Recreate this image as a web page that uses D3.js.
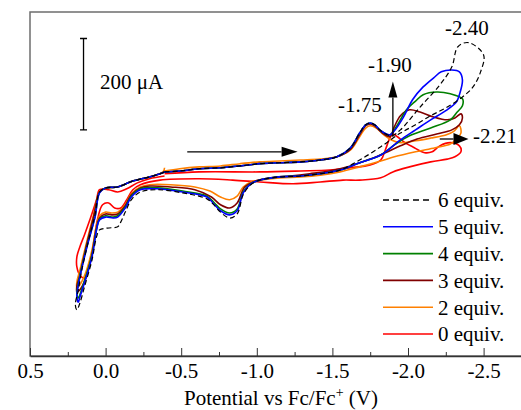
<!DOCTYPE html>
<html>
<head>
<meta charset="utf-8">
<script src="https://cdn.jsdelivr.net/npm/d3@7"></script>
<style>
  body { margin: 0; background: #fff; }
</style>
</head>
<body>
<script>
var width = 521,
    height = 410;

var serifFont = "'Liberation Serif', 'DejaVu Serif', 'Nimbus Roman', 'Nimbus Roman No9 L', FreeSerif, Tinos, 'Noto Serif', 'Times New Roman', serif";

// tick values of the potential axis (V vs Fc/Fc+)
var xMajor = [0.5, 0, -0.5, -1, -1.5, -2, -2.5];
var xMinor = [0.25, -0.25, -0.75, -1.25, -1.75, -2.25, -2.75];

var labels = ["6 equiv.", "5 equiv.", "4 equiv.", "3 equiv.", "2 equiv.", "0 equiv."];
var colors = ["#000000", "#0000ff", "#008000", "#800000", "#ff8000", "#ff0000"];

// [potential V, current uA], each loop starts near -0.4 V
var eq6 = [[-0.39,0],[-0.49,2],[-0.62,7],[-0.76,9],[-0.89,13],[-1.02,18],[-1.15,20],[-1.29,22],[-1.42,26],[-1.53,33],
  [-1.62,53],[-1.68,85],[-1.72,103],[-1.75,107],[-1.78,103],[-1.82,90],[-1.89,79],[-1.95,92],[-2.08,142],[-2.21,190],
  [-2.29,230],[-2.33,274],[-2.40,283],[-2.50,256],[-2.48,219],[-2.43,186],[-2.36,164],[-2.25,140],[-2.15,123],[-2.05,103],
  [-1.95,85],[-1.82,55],[-1.68,26],[-1.55,4],[-1.42,-4],[-1.29,-9],[-1.15,-11],[-1.02,-18],[-0.96,-28],[-0.91,-50],
  [-0.87,-92],[-0.82,-101],[-0.76,-88],[-0.71,-70],[-0.67,-59],[-0.51,-46],[-0.34,-39],[-0.23,-44],[-0.17,-61],[-0.13,-88],
  [-0.10,-110],[-0.08,-120],[-0.01,-123],[0.04,-127],[0.06,-142],[0.09,-193],[0.14,-252],[0.17,-287],[0.19,-302],
  [0.20,-291],[0.18,-258],[0.16,-219],[0.12,-160],[0.07,-94],[0.04,-44],[0.00,-35],[-0.08,-33],[-0.18,-20],[-0.29,-11],
  [-0.36,-4],[-0.39,0]];

var eq5 = [[-0.39,0],[-0.49,2],[-0.62,7],[-0.76,9],[-0.89,13],[-1.02,18],[-1.15,20],[-1.29,22],[-1.42,26],[-1.53,33],
  [-1.62,53],[-1.68,85],[-1.72,103],[-1.75,107],[-1.78,103],[-1.82,90],[-1.88,81],[-1.91,90],[-1.97,120],[-2.03,158],
  [-2.10,186],[-2.17,206],[-2.22,219],[-2.29,223],[-2.34,219],[-2.36,201],[-2.34,169],[-2.32,153],[-2.25,134],[-2.15,114],
  [-2.05,92],[-1.95,70],[-1.82,37],[-1.68,20],[-1.55,4],[-1.42,-4],[-1.29,-9],[-1.15,-11],[-1.02,-18],[-0.96,-26],
  [-0.91,-46],[-0.87,-85],[-0.82,-94],[-0.76,-85],[-0.72,-72],[-0.67,-55],[-0.51,-44],[-0.34,-37],[-0.23,-39],[-0.17,-55],
  [-0.13,-79],[-0.08,-99],[-0.05,-101],[0.00,-99],[0.04,-105],[0.06,-127],[0.09,-186],[0.14,-243],[0.17,-274],[0.18,-285],
  [0.19,-274],[0.18,-247],[0.16,-215],[0.12,-160],[0.07,-99],[0.04,-46],[0.00,-35],[-0.08,-33],[-0.18,-20],[-0.29,-11],
  [-0.36,-4],[-0.39,0]];

var eq4 = [[-0.39,0],[-0.49,2],[-0.62,7],[-0.76,9],[-0.89,13],[-1.02,18],[-1.15,20],[-1.29,22],[-1.42,26],[-1.53,33],
  [-1.62,53],[-1.68,85],[-1.72,103],[-1.75,107],[-1.78,103],[-1.82,90],[-1.88,81],[-1.93,103],[-1.99,136],[-2.05,155],
  [-2.10,169],[-2.19,175],[-2.28,171],[-2.36,160],[-2.36,145],[-2.32,129],[-2.28,114],[-2.15,96],[-2.01,79],[-1.91,59],
  [-1.82,37],[-1.68,20],[-1.55,4],[-1.42,-4],[-1.29,-9],[-1.15,-11],[-1.02,-18],[-0.96,-26],[-0.91,-44],[-0.87,-81],
  [-0.82,-90],[-0.76,-81],[-0.72,-68],[-0.67,-53],[-0.51,-42],[-0.34,-35],[-0.23,-37],[-0.17,-53],[-0.13,-77],[-0.08,-96],
  [-0.05,-99],[0.00,-96],[0.04,-103],[0.06,-125],[0.09,-182],[0.14,-239],[0.17,-269],[0.18,-276],[0.19,-267],[0.18,-243],
  [0.16,-212],[0.12,-158],[0.07,-98],[0.04,-45],[0.00,-35],[-0.08,-33],[-0.18,-20],[-0.29,-11],[-0.36,-4],[-0.39,0]];

var eq3 = [[-0.39,0],[-0.49,2],[-0.62,7],[-0.76,9],[-0.89,13],[-1.02,18],[-1.15,20],[-1.29,22],[-1.42,26],[-1.53,33],
  [-1.62,50],[-1.68,81],[-1.72,101],[-1.75,105],[-1.78,101],[-1.82,88],[-1.88,77],[-1.91,99],[-1.95,123],[-2.01,136],
  [-2.08,131],[-2.17,120],[-2.26,114],[-2.31,118],[-2.35,127],[-2.36,118],[-2.34,103],[-2.29,92],[-2.19,83],[-2.06,72],
  [-1.95,57],[-1.85,42],[-1.75,28],[-1.62,13],[-1.48,2],[-1.35,-4],[-1.22,-9],[-1.09,-13],[-0.99,-20],[-0.92,-33],
  [-0.87,-68],[-0.82,-79],[-0.76,-72],[-0.70,-55],[-0.59,-39],[-0.43,-33],[-0.29,-31],[-0.23,-35],[-0.17,-50],[-0.13,-74],
  [-0.08,-92],[-0.04,-94],[0.00,-92],[0.04,-101],[0.06,-123],[0.09,-180],[0.13,-232],[0.17,-258],[0.19,-263],[0.19,-250],
  [0.17,-226],[0.13,-166],[0.08,-99],[0.04,-44],[0.00,-35],[-0.08,-33],[-0.18,-20],[-0.29,-11],[-0.39,0]];

var eq2 = [[-0.39,2],[-0.49,7],[-0.62,11],[-0.76,13],[-0.89,18],[-1.02,22],[-1.15,24],[-1.29,26],[-1.42,28],[-1.53,33],
  [-1.62,48],[-1.68,77],[-1.72,96],[-1.75,101],[-1.79,96],[-1.84,81],[-1.89,70],[-1.95,64],[-2.05,68],[-2.15,74],
  [-2.25,81],[-2.30,88],[-2.34,101],[-2.35,85],[-2.32,72],[-2.28,61],[-2.18,53],[-2.05,44],[-1.91,33],[-1.82,24],
  [-1.68,11],[-1.55,0],[-1.42,-7],[-1.29,-11],[-1.15,-13],[-1.02,-18],[-0.96,-22],[-0.91,-33],[-0.87,-53],[-0.82,-61],
  [-0.76,-55],[-0.69,-42],[-0.59,-33],[-0.43,-28],[-0.29,-28],[-0.23,-33],[-0.17,-48],[-0.13,-72],[-0.08,-88],[-0.04,-90],
  [0.00,-88],[0.04,-96],[0.06,-118],[0.09,-171],[0.13,-219],[0.17,-247],[0.19,-254],[0.19,-241],[0.17,-215],[0.13,-160],
  [0.08,-94],[0.04,-44],[0.00,-35],[-0.08,-33],[-0.18,-20],[-0.29,-11],[-0.38,0],[-0.39,9]];

var eq0 = [[-0.39,-4],[-0.62,0],[-1.02,0],[-1.29,2],[-1.48,4],[-1.62,9],[-1.75,15],[-1.82,26],[-1.85,48],[-1.88,74],
  [-1.90,83],[-1.93,77],[-1.98,64],[-2.03,55],[-2.11,42],[-2.16,44],[-2.21,57],[-2.28,64],[-2.34,57],[-2.35,44],
  [-2.31,33],[-2.26,28],[-2.15,22],[-2.01,11],[-1.90,0],[-1.82,-13],[-1.68,-18],[-1.57,-18],[-1.42,-22],[-1.24,-26],
  [-1.02,-22],[-0.84,-18],[-0.62,-15],[-0.36,-18],[-0.23,-28],[-0.18,-39],[-0.14,-61],[-0.10,-79],[-0.06,-79],[-0.02,-68],
  [0.02,-72],[0.05,-99],[0.07,-134],[0.09,-177],[0.12,-217],[0.14,-232],[0.17,-226],[0.19,-208],[0.19,-186],[0.17,-164],
  [0.14,-138],[0.10,-101],[0.06,-61],[0.04,-39],[-0.02,-39],[-0.08,-44],[-0.14,-37],[-0.21,-24],[-0.29,-15],[-0.39,-9]];

var series = [eq6, eq5, eq4, eq3, eq2, eq0];

const svg = d3.select("body")
    .append("svg")
    .attr("width", width)
    .attr("height", height)
    .style("font-family", serifFont);

var x = d3.scaleLinear()
    .domain([0.5, -2.75])
    .range([30, 521.4]);

var y = d3.scaleLinear()
    .domain([-403, 350])   // current in uA, no labels on this axis
    .range([356, 12]);

// frame
svg.append("rect")
    .attr("x", x(0.5))
    .attr("y", y(350))
    .attr("width", x(-2.75) - x(0.5) + 2)
    .attr("height", y(-403) - y(350))
    .attr("fill", "none")
    .attr("stroke", "#6e6e6e")
    .attr("stroke-width", 1.5);

// minor ticks
svg.append("g")
    .attr("transform", "translate(0," + y(-403) + ")")
    .call(d3.axisBottom(x).tickValues(xMinor).tickSize(-4).tickSizeOuter(0).tickFormat(""))
    .call(g => g.select(".domain").remove())
    .selectAll("line").attr("stroke", "#333");

var xAxis = svg.append("g")
    .attr("transform", "translate(0," + y(-403) + ")")
    .call(d3.axisBottom(x)
        .tickValues(xMajor)
        .tickSize(-8)
        .tickSizeOuter(0)
        .tickPadding(7)
        .tickFormat(function (d) { return d.toFixed(1); }));

xAxis.attr("font-family", null).attr("font-size", 21);
xAxis.select(".domain").attr("stroke", "#333").attr("stroke-width", 1.3);
xAxis.selectAll("line").attr("stroke", "#333");
xAxis.selectAll("text").attr("fill", "#000");

var axisLabel = svg.append("text")
    .attr("x", 281)
    .attr("y", 405)
    .attr("text-anchor", "middle")
    .attr("font-size", 21);
axisLabel.append("tspan").text("Potential vs Fc/Fc");
axisLabel.append("tspan").attr("dy", -8).attr("font-size", 14).text("+");
axisLabel.append("tspan").attr("dy", 8).text(" (V)");

var line = d3.line()
    .x(function (d) { return x(d[0]); })
    .y(function (d) { return y(d[1]); })
    .curve(d3.curveCatmullRom.alpha(0.5));

// draw 0 equiv first so the dashed 6 equiv ends on top
for (var i = series.length - 1; i >= 0; i--) {
    svg.append("path")
        .attr("d", line(series[i]))
        .attr("fill", "none")
        .attr("stroke", colors[i])
        .attr("stroke-width", i == 0 ? 1.2 : 1.6)
        .attr("stroke-dasharray", i == 0 ? "5,3" : null)
        .attr("stroke-linejoin", "round");
}

// legend
var legend = svg.append("g");
labels.forEach(function (name, i) {
    var ly = 200 + i * 26.8;
    legend.append("line")
        .attr("x1", 383).attr("x2", 433)
        .attr("y1", ly).attr("y2", ly)
        .attr("stroke", colors[i])
        .attr("stroke-width", i == 0 ? 1.3 : 1.6)
        .attr("stroke-dasharray", i == 0 ? "6,4" : null);
    legend.append("text")
        .attr("x", 438)
        .attr("y", ly)
        .attr("dy", "0.35em")
        .attr("font-size", 21)
        .text(name);
});

// scale bar 200 uA
var sb = x(0.146);
svg.append("path")
    .attr("d", "M" + sb + "," + y(92) + "V" + y(292) +
        "M" + (sb - 3.5) + "," + y(92) + "H" + (sb + 3.5) +
        "M" + (sb - 3.5) + "," + y(292) + "H" + (sb + 3.5))
    .attr("stroke", "#000")
    .attr("stroke-width", 1.3)
    .attr("fill", "none");
svg.append("text")
    .attr("x", 100).attr("y", 89)
    .attr("font-size", 21)
    .text("200 \u03bcA");

// arrows
function arrow(x1, y1, x2, y2, len, half) {
    var a = Math.atan2(y2 - y1, x2 - x1),
        bx = x2 - len * Math.cos(a),
        by = y2 - len * Math.sin(a),
        px = -Math.sin(a) * half,
        py = Math.cos(a) * half;
    svg.append("line")
        .attr("x1", x1).attr("y1", y1).attr("x2", bx).attr("y2", by)
        .attr("stroke", "#000").attr("stroke-width", 1.3);
    svg.append("path")
        .attr("d", "M" + x2 + "," + y2 + "L" + (bx + px) + "," + (by + py) +
            "L" + (bx - px) + "," + (by - py) + "Z")
        .attr("fill", "#000");
}
arrow(x(-0.54), y(44), x(-1.27), y(44), 16, 5);      // sweep direction
arrow(x(-1.90), y(77), x(-1.90), y(198), 16, 4.5);
arrow(x(-2.21), y(72), x(-2.40), y(72), 15, 6);

var notes = [["-2.40", 445, 35], ["-1.90", 368, 72], ["-1.75", 338, 112], ["-2.21", 473, 143]];
notes.forEach(function (n) {
    svg.append("text")
        .attr("x", n[1]).attr("y", n[2])
        .attr("font-size", 21)
        .text(n[0]);
});
</script>
</body>
</html>
